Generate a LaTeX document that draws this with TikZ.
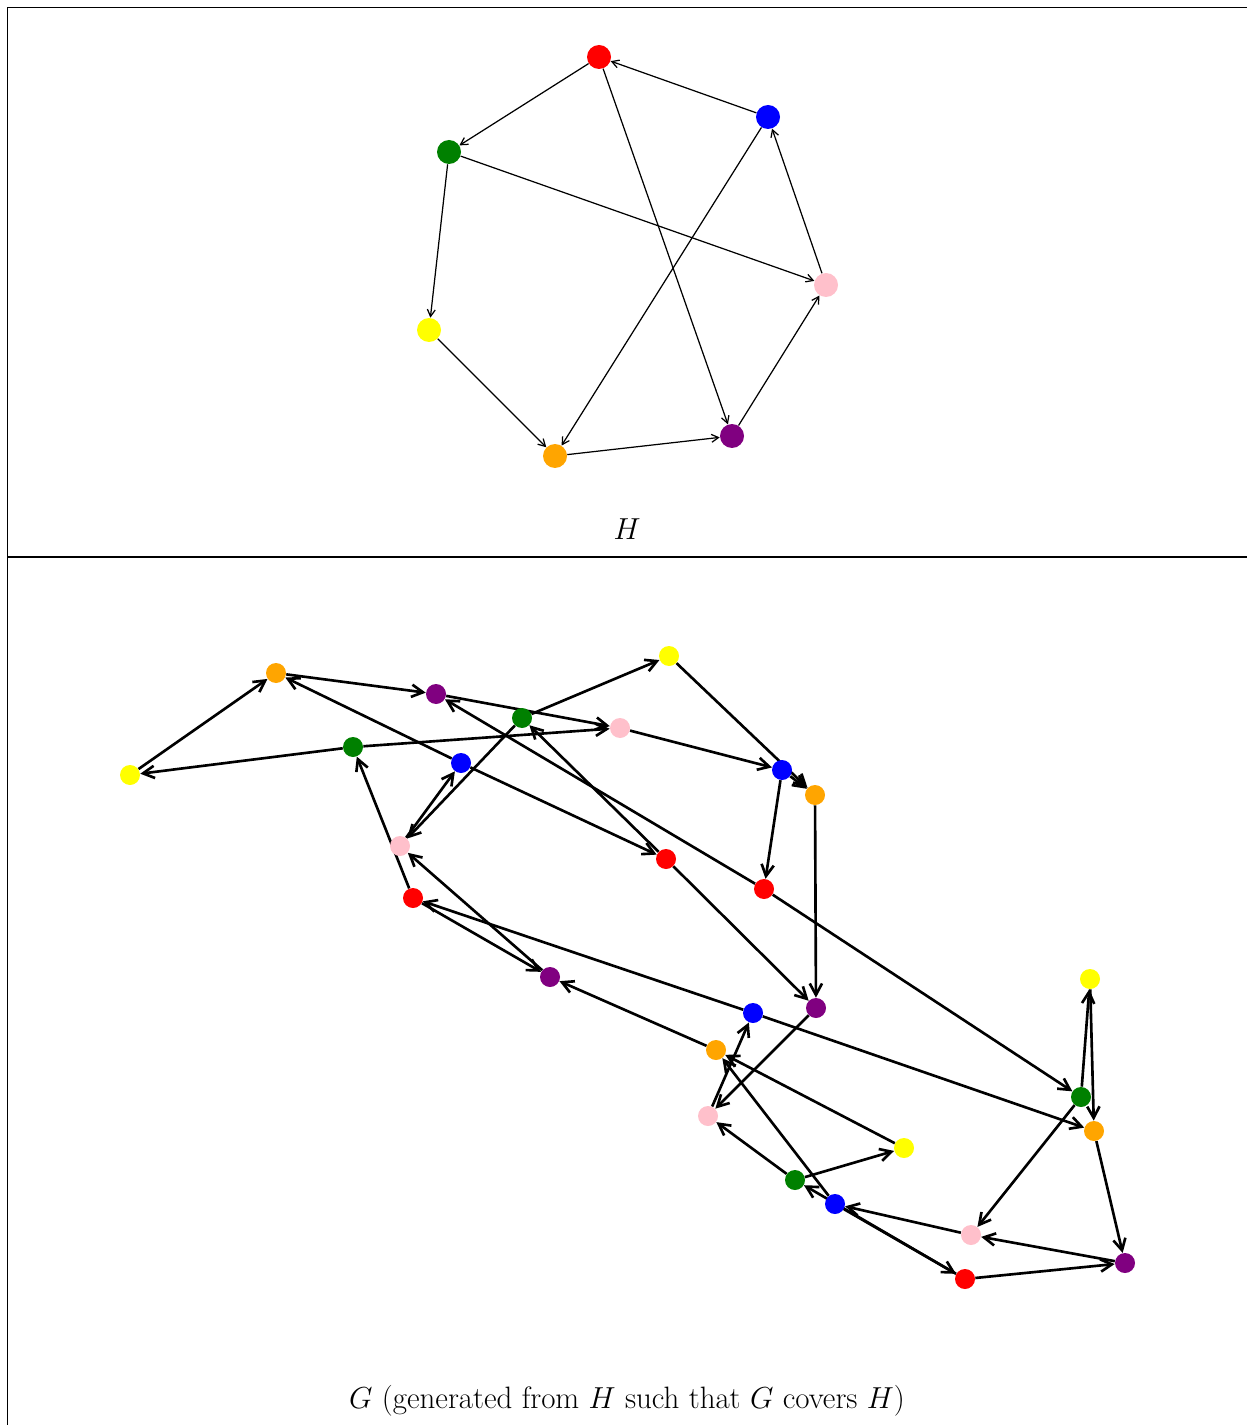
\documentclass[tikz,border=0pt]{standalone}
\usepackage{xcolor}
\usepackage{tikz}
\usetikzlibrary{arrows.meta, backgrounds}
\definecolor{vred}{HTML}{FF0000}
\definecolor{vblue}{HTML}{0000FF}
\definecolor{vgreen}{HTML}{008000}
\definecolor{vyellow}{HTML}{FFFF00}
\definecolor{vorange}{HTML}{FFA500}
\definecolor{vpurple}{HTML}{800080}
\definecolor{vpink}{HTML}{FFC0CB}

\begin{document}
\begin{tikzpicture}[
    x=0.02cm, y=-0.02cm,
    >={Straight Barb[length=6.5pt, width=7pt]},
    hvert/.style={circle, fill=#1, minimum size=0.48cm, inner sep=0pt},
    gvert/.style={circle, fill=#1, minimum size=0.4cm, inner sep=0pt},
    hedge/.style={-{Straight Barb[length=4pt, width=4.5pt]}, line width=0.7pt},
    gedge/.style={->, line width=1.5pt},
    panel/.style={line width=0.6pt},
    caption/.style={font=\fontsize{17.6}{21}\selectfont},
]
    \useasboundingbox (0,0) rectangle (1247,1425);

    % Panel frames
    \draw[panel] (7.5,1425) -- (7.5,7.5) -- (1247,7.5);
    \draw[panel] (7.5,557) -- (1247,557);

    % Graph H
    \node[hvert=vred] (hr) at (599,57) {};
    \node[hvert=vblue] (hb) at (768,117) {};
    \node[hvert=vgreen] (hg) at (449,152) {};
    \node[hvert=vpink] (hk) at (826,285) {};
    \node[hvert=vyellow] (hy) at (429,330) {};
    \node[hvert=vpurple] (hp) at (732,436) {};
    \node[hvert=vorange] (ho) at (555,456) {};
    \node[caption] (hlabel) at (627,529) {$H$};

    % Graph G
    \node[gvert=vyellow] (y1) at (130,775) {};
    \node[gvert=vorange] (o1) at (276,673) {};
    \node[gvert=vpurple] (p1) at (436,694) {};
    \node[gvert=vgreen] (g1) at (353,747) {};
    \node[gvert=vgreen] (g2) at (522,718) {};
    \node[gvert=vyellow] (y2) at (669,656) {};
    \node[gvert=vpink] (k1) at (620,728) {};
    \node[gvert=vblue] (b1) at (461,763) {};
    \node[gvert=vblue] (b2) at (782,770) {};
    \node[gvert=vorange] (o2) at (815,795) {};
    \node[gvert=vpink] (k2) at (400,846) {};
    \node[gvert=vred] (r1) at (413,898) {};
    \node[gvert=vred] (r2) at (666,859) {};
    \node[gvert=vred] (r3) at (764,889) {};
    \node[gvert=vpurple] (p2) at (550,977) {};
    \node[gvert=vpurple] (p3) at (816,1008) {};
    \node[gvert=vblue] (b3) at (753,1013) {};
    \node[gvert=vorange] (o3) at (716,1050) {};
    \node[gvert=vpink] (k3) at (708,1116) {};
    \node[gvert=vyellow] (y3) at (904,1148) {};
    \node[gvert=vgreen] (g3) at (795,1180) {};
    \node[gvert=vblue] (b4) at (835,1204) {};
    \node[gvert=vpink] (k4) at (971,1235) {};
    \node[gvert=vred] (r4) at (965,1279) {};
    \node[gvert=vpurple] (p4) at (1125,1263) {};
    \node[gvert=vyellow] (y4) at (1090,979) {};
    \node[gvert=vgreen] (g4) at (1081,1097) {};
    \node[gvert=vorange] (o4) at (1094,1131) {};
    \node[caption] (glabel) at (627,1401) {$G$ (generated from $H$ such that $G$ covers $H$)};

    % Edges behind the vertices
    \begin{scope}[on background layer]
        \foreach \a/\b in {hr/hg, hb/hr, hg/hk, hr/hp, hb/ho, hg/hy, hk/hb, hy/ho, ho/hp, hp/hk}
            \draw[hedge] (\a) -- (\b);
        \foreach \a/\b in {y1/o1, o1/p1, b1/o1, g1/y1, g1/k1, r1/g1, p1/k1, g2/y2,
                           g2/k2, r2/g2, r3/p1, r3/g4, b1/r2, k2/b1, k1/b2, y2/o2,
                           b2/o2, b2/r3, o2/p3, r2/p3, p3/k3, k3/b3, b3/r1, b3/o4,
                           r1/p2, p2/k2, o3/p2, y3/o3, b4/o3, g3/k3, g3/y3, r4/g3,
                           b4/r4, k4/b4, r4/p4, p4/k4, g4/k4, g4/y4, y4/o4, o4/p4}
            \draw[gedge] (\a) -- (\b);
    \end{scope}
\end{tikzpicture}
\end{document}
